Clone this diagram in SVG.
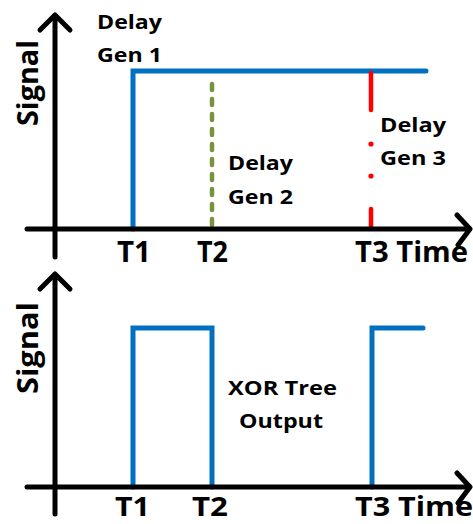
<svg xmlns="http://www.w3.org/2000/svg" width="473" height="524" viewBox="0 0 473 524">
  <style>
    .axis { fill: none; stroke: #000; stroke-width: 5; stroke-linecap: round; stroke-linejoin: round; }
    .sig { fill: none; stroke: #0070C0; stroke-width: 5; stroke-linecap: round; stroke-linejoin: miter; }
    .gen2 { fill: none; stroke: #77933C; stroke-width: 4.5; stroke-linecap: round; stroke-dasharray: 6 9; }
    .gen3 { fill: none; stroke: #FF0000; stroke-width: 4.5; stroke-linecap: round; }
    .dot3 { fill: #FF0000; }
    .lbl { font-family: "Open Sans", "Liberation Sans", sans-serif; font-weight: bold; fill: #000; }
    .small { font-size: 20px; }
    .tick { font-size: 28px; }
    .tick-low { font-size: 26px; }
    .ylab { font-size: 28px; }
  </style>

  <!-- Upper chart: delay generator outputs -->
  <g id="top-chart">
    <g id="top-signals">
      <path class="sig" d="M133,229 V71 H426"/>
      <line class="gen2" x1="212" y1="84" x2="212" y2="227"/>
      <g id="gen3-trace">
        <line class="gen3" x1="371" y1="73" x2="371" y2="110"/>
        <circle class="dot3" cx="371" cy="144" r="2.6"/>
        <circle class="dot3" cx="371" cy="176" r="2.6"/>
        <line class="gen3" x1="371" y1="209" x2="371" y2="227"/>
      </g>
    </g>
    <g id="top-axes">
      <line class="axis" x1="55" y1="16" x2="55" y2="257"/>
      <polyline class="axis" points="40,30 55,15 70,30"/>
      <line class="axis" x1="27" y1="229" x2="468" y2="229"/>
      <polyline class="axis" points="457,215 470,229 458,245"/>
    </g>
    <g id="top-labels">
      <text class="lbl ylab" transform="translate(38,126) rotate(-90)" textLength="86" lengthAdjust="spacingAndGlyphs">Signal</text>
      <text class="lbl small" x="97" y="29" textLength="65" lengthAdjust="spacingAndGlyphs">Delay</text>
      <text class="lbl small" x="97" y="62" textLength="65" lengthAdjust="spacingAndGlyphs">Gen 1</text>
      <text class="lbl small" x="228" y="170" textLength="65" lengthAdjust="spacingAndGlyphs">Delay</text>
      <text class="lbl small" x="228" y="204" textLength="65" lengthAdjust="spacingAndGlyphs">Gen 2</text>
      <text class="lbl small" x="380" y="132" textLength="66" lengthAdjust="spacingAndGlyphs">Delay</text>
      <text class="lbl small" x="380" y="165" textLength="66" lengthAdjust="spacingAndGlyphs">Gen 3</text>
      <text class="lbl tick" x="117" y="262" textLength="34" lengthAdjust="spacingAndGlyphs">T1</text>
      <text class="lbl tick" x="197" y="262" textLength="31" lengthAdjust="spacingAndGlyphs">T2</text>
      <text class="lbl tick" x="355" y="262" textLength="113" lengthAdjust="spacingAndGlyphs">T3 Time</text>
    </g>
  </g>

  <!-- Lower chart: XOR tree output -->
  <g id="bottom-chart">
    <g id="bottom-signals">
      <path class="sig" d="M133,487 V328 H212 V487"/>
      <path class="sig" d="M372,487 V328 H423"/>
    </g>
    <g id="bottom-axes">
      <line class="axis" x1="55" y1="275" x2="55" y2="514"/>
      <polyline class="axis" points="40,289 55,274 70,289"/>
      <line class="axis" x1="27" y1="487" x2="468" y2="487"/>
      <polyline class="axis" points="457,473 470,487 458,503"/>
    </g>
    <g id="bottom-labels">
      <text class="lbl ylab" transform="translate(38,394) rotate(-90)" textLength="92" lengthAdjust="spacingAndGlyphs">Signal</text>
      <text class="lbl small" x="228" y="395" textLength="109" lengthAdjust="spacingAndGlyphs">XOR Tree</text>
      <text class="lbl small" x="239" y="428" textLength="84" lengthAdjust="spacingAndGlyphs">Output</text>
      <text class="lbl tick-low" x="115" y="516" textLength="35" lengthAdjust="spacingAndGlyphs">T1</text>
      <text class="lbl tick-low" x="192" y="516" textLength="36" lengthAdjust="spacingAndGlyphs">T2</text>
      <text class="lbl tick-low" x="355" y="516" textLength="118" lengthAdjust="spacingAndGlyphs">T3 Time</text>
    </g>
  </g>
</svg>
